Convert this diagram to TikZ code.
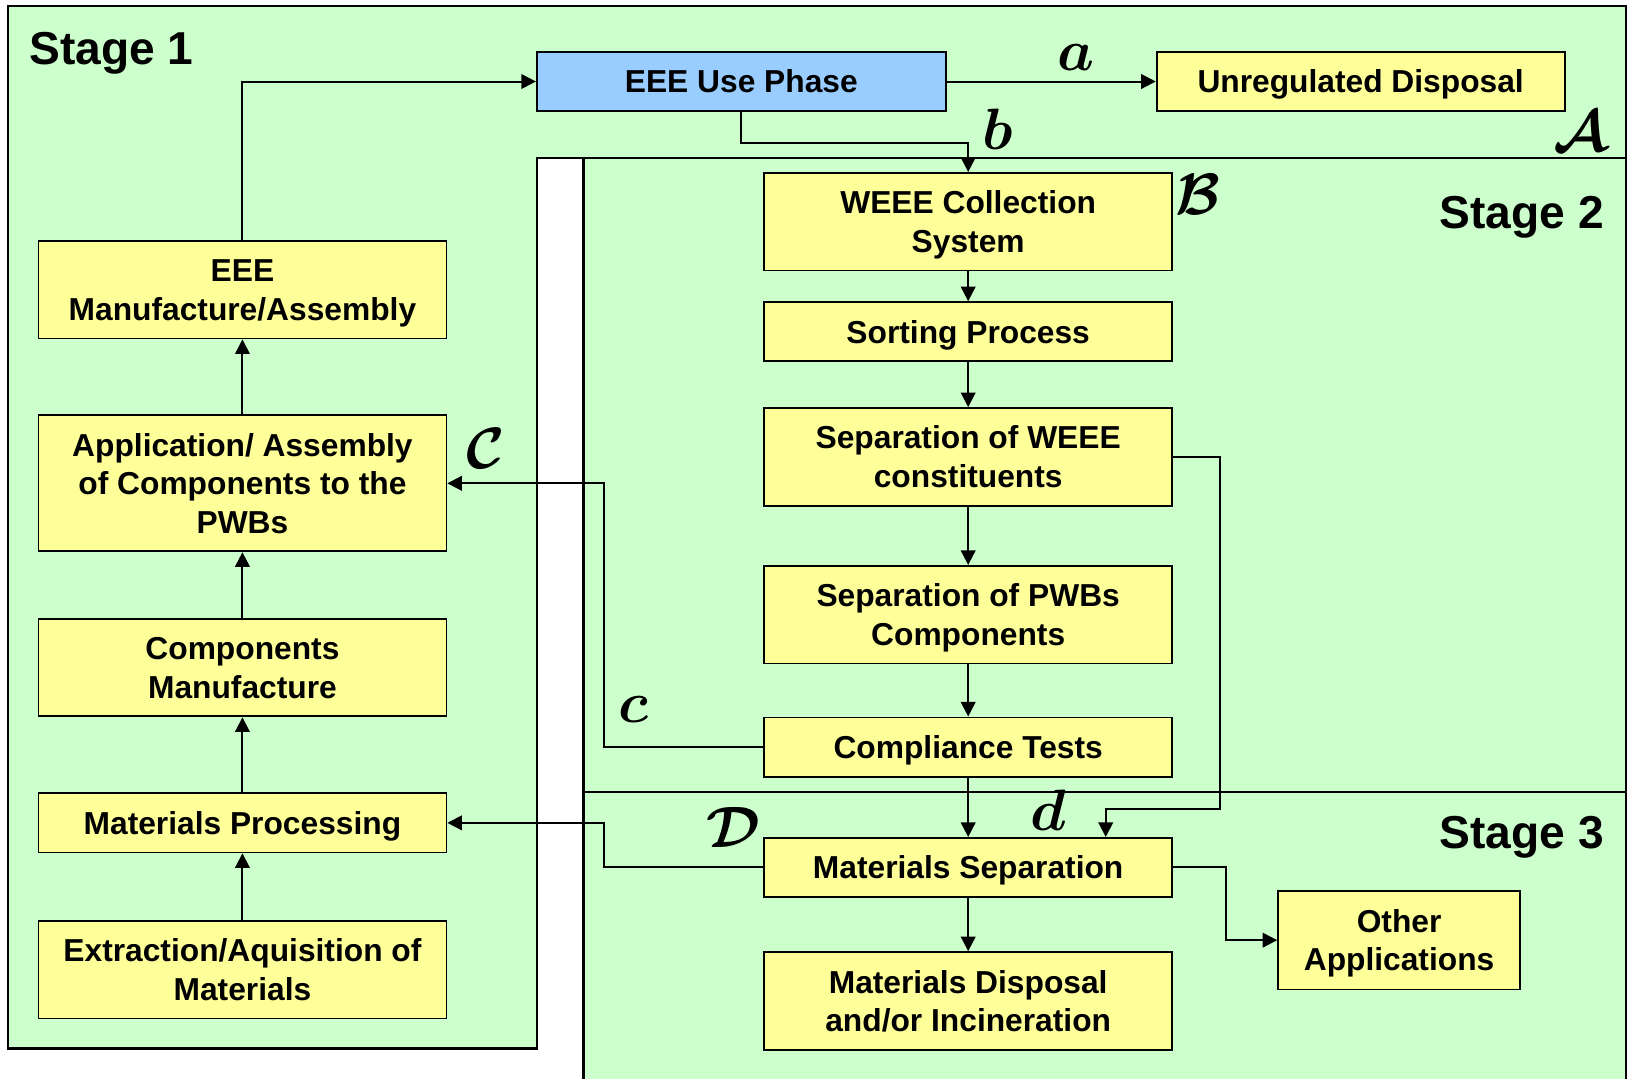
\documentclass[tikz,border=0pt]{standalone}
\usepackage{graphicx}
\usepackage{fontspec}
\setmainfont{Liberation Sans}
\usetikzlibrary{arrows.meta}
\definecolor{stagegreen}{HTML}{CCFFCC}
\definecolor{boxyellow}{HTML}{FFFF99}
\definecolor{useblue}{HTML}{99CCFF}
% path letters in bold math, scaled up from the largest fixed size
\newcommand{\pathletter}[1]{\scalebox{1.286}{\fontsize{24.88}{30}\selectfont\boldmath$#1$}}
% invisible line strut that centres the capitals vertically in a box
\newcommand{\ls}{\rule[-0.234em]{0pt}{1.184em}}
\begin{document}
\begin{tikzpicture}[x=0.02cm, y=-0.02cm,
  stageline/.style={draw=black, line width=1.3pt},
  procbox/.style={draw=black, fill=boxyellow, line width=1pt, align=center,
    inner sep=0pt, font=\fontsize{17.4}{21.1}\selectfont\bfseries,
    minimum width=7.86cm, minimum height=1.88cm},
  lowbox/.style={procbox, minimum height=1.14cm},
  highbox/.style={procbox, minimum height=2.62cm},
  usebox/.style={lowbox, fill=useblue, minimum width=7.88cm},
  arr/.style={-{Triangle[length=8pt,width=8pt]}, line width=1.1pt},
  stagelbl/.style={inner sep=0pt, font=\fontsize{25.3}{30}\selectfont\bfseries},
  letter/.style={inner sep=0pt}]
\useasboundingbox (0,0) rectangle (1568,1039);

% stage backgrounds
\begin{scope}
  \clip (0,0) rectangle (1568,1039);
  \fill[white] (0,0) rectangle (1568,1039);
  \path[stageline, fill=stagegreen] (8,6) -- (1566,6) -- (1566,152) -- (517,152)
    -- (517,1010) -- (8,1010) -- cycle;
  \path[stageline, fill=stagegreen] (562,152) rectangle (1566,1060);
  \draw[stageline] (562,763) -- (1566,763);
\end{scope}

\node[stagelbl, anchor=base west] (s1) at (28,62) {Stage 1};
\node[stagelbl, anchor=base east] (s2) at (1545,220) {Stage 2};
\node[stagelbl, anchor=base east] (s3) at (1545,817) {Stage 3};

% stage 1: production chain
\node[procbox] (mfg)  at (233.5,279)   {\ls EEE\\Manufacture/Assembly\ls};
\node[highbox] (app)  at (233.5,465.5) {\ls Application/ Assembly\\of Components to the\\PWBs\ls};
\node[procbox] (comp) at (233.5,643)   {\ls Components\\Manufacture\ls};
\node[lowbox]  (proc) at (233.5,792.5) {\ls Materials Processing\ls};
\node[procbox] (extr) at (233.5,934)   {\ls Extraction/Aquisition of\\Materials\ls};

\node[usebox] (use)   at (714,78.5)    {\ls EEE Use Phase\ls};
\node[lowbox] (unreg) at (1310.5,78.5) {\ls Unregulated Disposal\ls};

% stage 2: collection and treatment
\node[procbox] (coll) at (932.5,213.5) {\ls WEEE Collection\\System\ls};
\node[lowbox]  (sort) at (932.5,319.5) {\ls Sorting Process\ls};
\node[procbox] (sepw) at (932.5,440)   {\ls Separation of WEEE\\constituents\ls};
\node[procbox] (sepp) at (932.5,592)   {\ls Separation of PWBs\\Components\ls};
\node[lowbox]  (test) at (932.5,719.5) {\ls Compliance Tests\ls};

% stage 3: materials recovery
\node[lowbox]  (msep)  at (932.5,835.5) {\ls Materials Separation\ls};
\node[procbox] (disp)  at (932.5,964)   {\ls Materials Disposal\\and/or Incineration\ls};
\node[procbox, minimum width=4.66cm, minimum height=1.9cm] (other) at (1347.5,905.5) {\ls Other\\Applications\ls};

% flows
\draw[arr] (extr) -- (proc);
\draw[arr] (proc) -- (comp);
\draw[arr] (comp) -- (app);
\draw[arr] (app) -- (mfg);
\draw[arr] (mfg.north) |- (use.west);
\draw[arr] (use.east) -- (unreg.west);
\draw[arr] (use.south) -- ++(0,30) -| (coll.north);
\draw[arr] (coll) -- (sort);
\draw[arr] (sort) -- (sepw);
\draw[arr] (sepw) -- (sepp);
\draw[arr] (sepp) -- (test);
\draw[arr] (test) -- (msep);
\draw[arr] (msep) -- (disp);
\coordinate (dturn) at (1175,779);
\draw[arr] (sepw.east) -| (dturn) -| ([xshift=2.65cm]msep.north);
\draw[arr] (test.west) -- ++(-153,0) |- (app.east);
\draw[arr] (msep.west) -- ++(-153,0) |- (proc.east);
\draw[arr] (msep.east) -- ++(51,0) |- (other.west);

% path labels
\node[letter] (la) at (1036,55)  {\pathletter{a}};
\node[letter] (lb) at (961,124)  {\pathletter{b}};
\node[letter] (lc) at (610,683)  {\pathletter{c}};
\node[letter] (ld) at (1010,780) {\pathletter{d}};
\node[letter] (lA) at (1522,127) {\pathletter{\mathcal{A}}};
\node[letter] (lB) at (1154,187) {\pathletter{\mathcal{B}}};
\node[letter] (lC) at (468,432)  {\pathletter{\mathcal{C}}};
\node[letter] (lD) at (706,797)  {\pathletter{\mathcal{D}}};
\end{tikzpicture}
\end{document}
